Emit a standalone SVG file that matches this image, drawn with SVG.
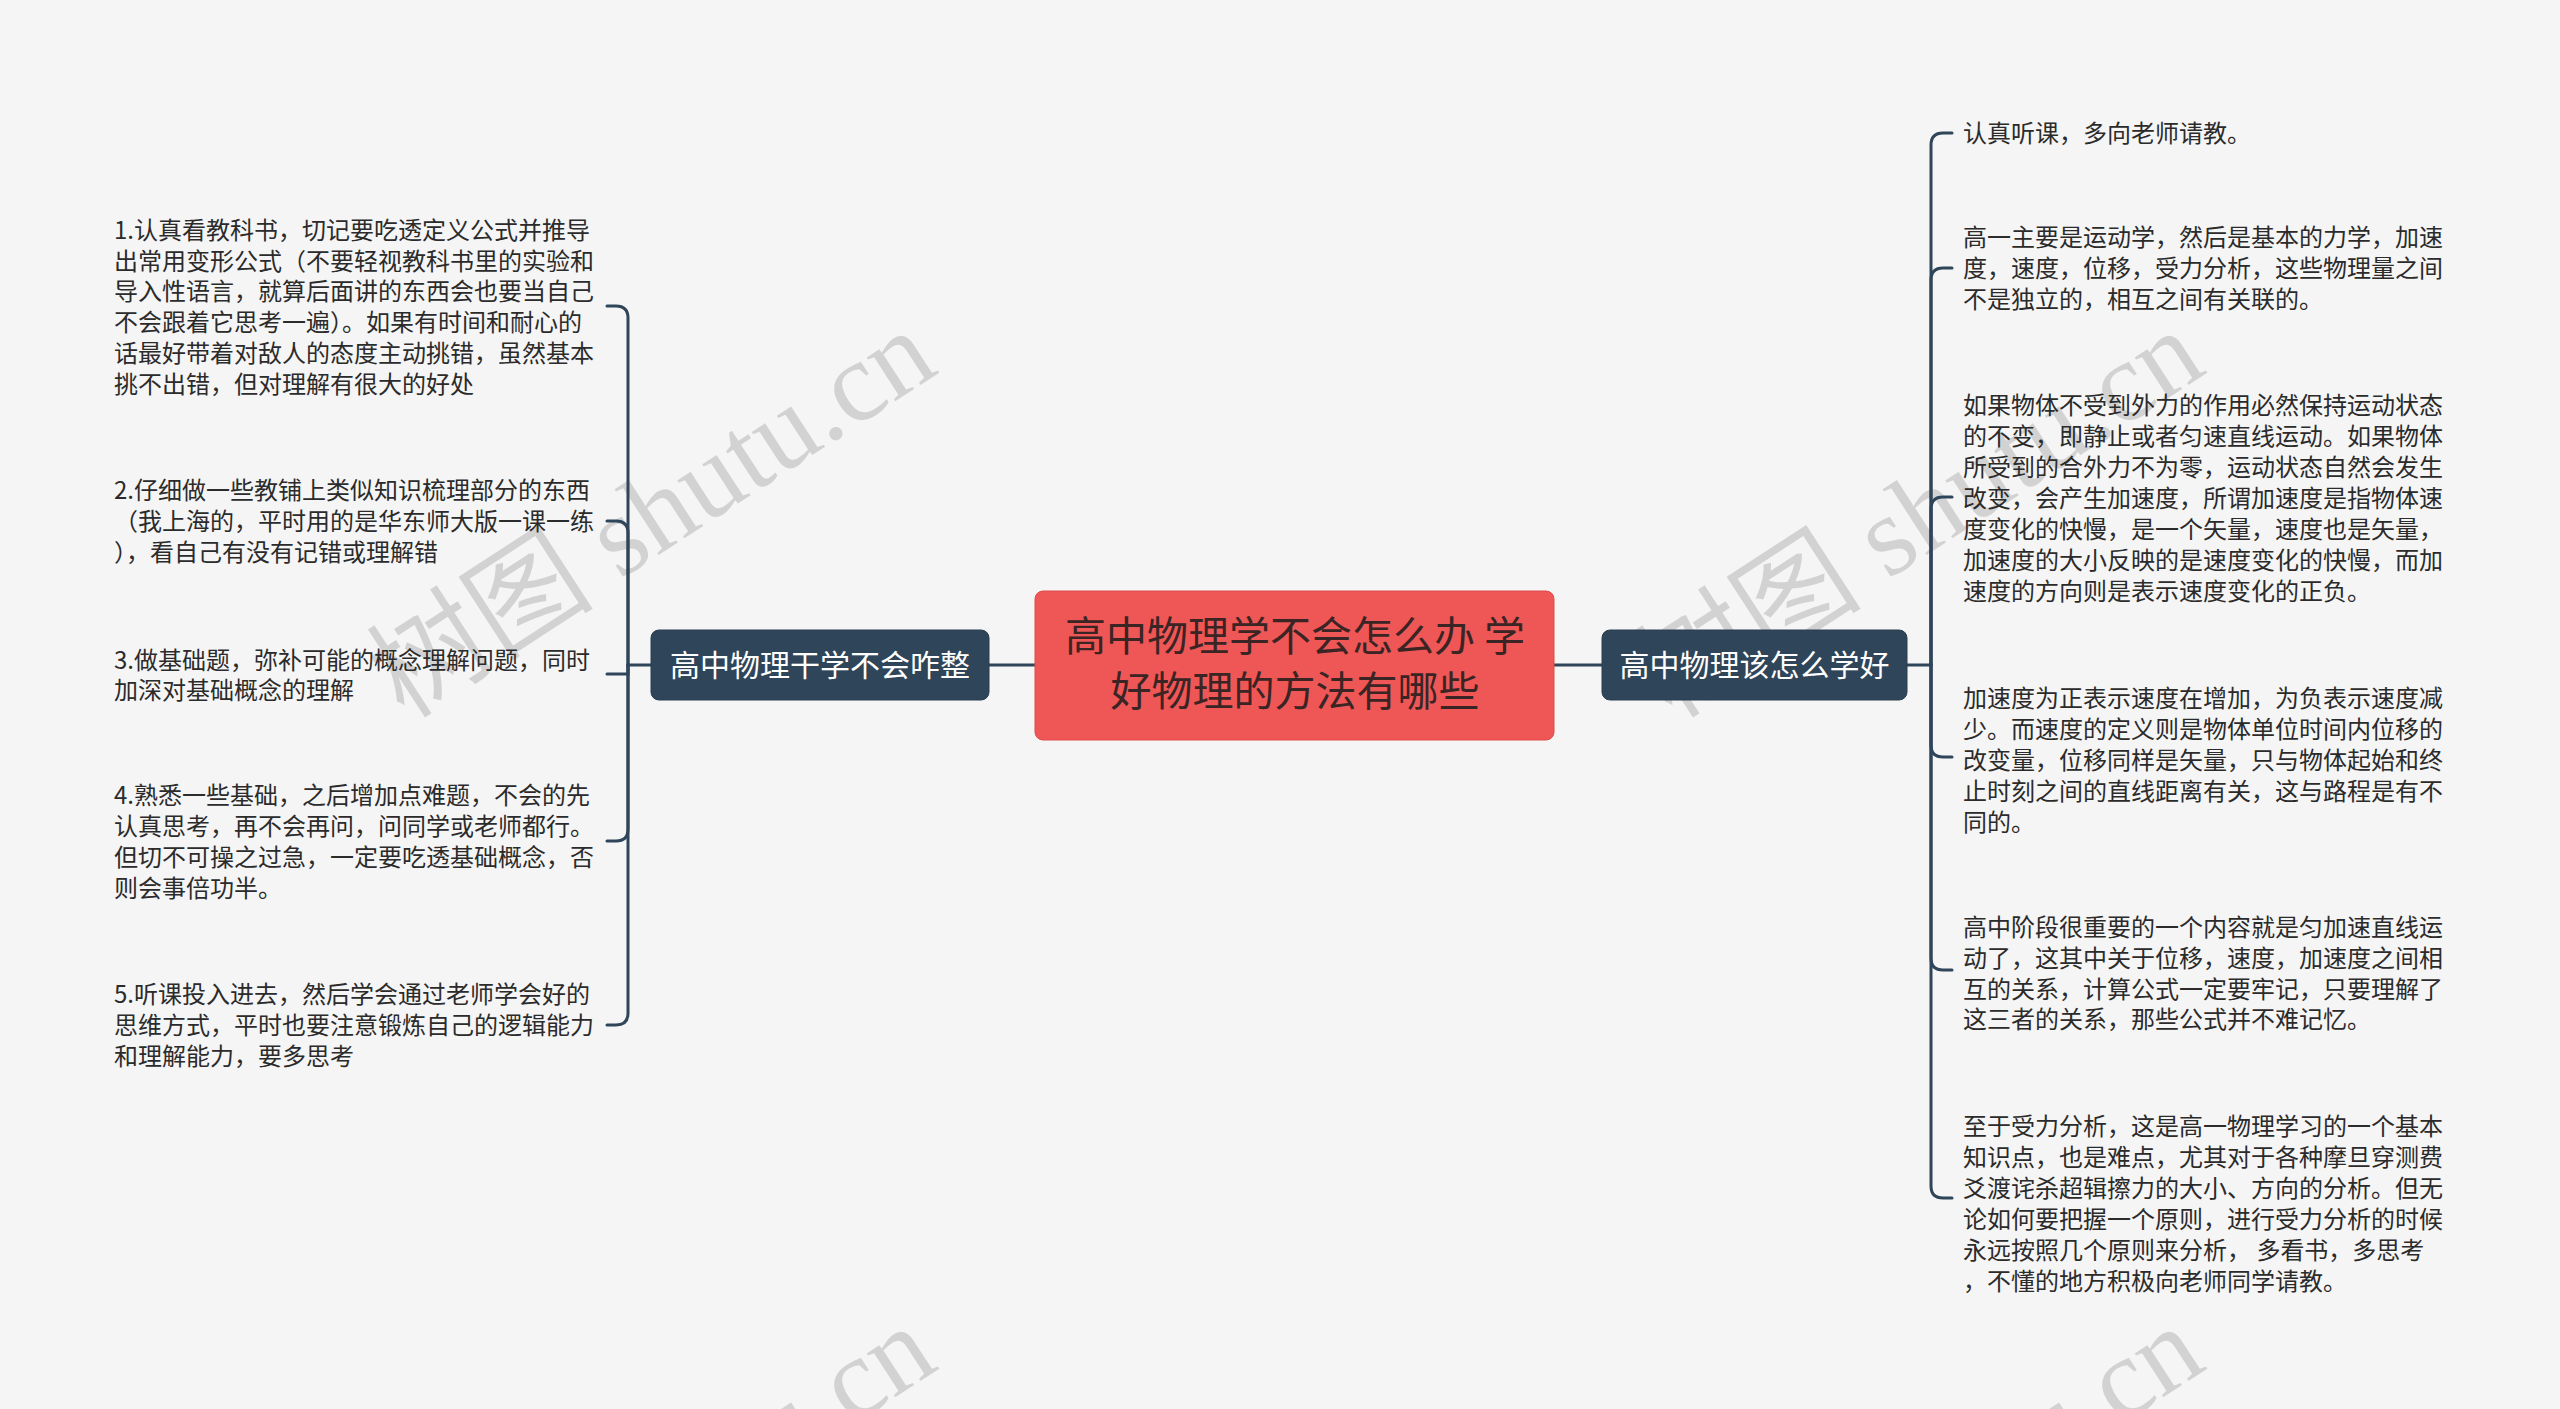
<svg xmlns="http://www.w3.org/2000/svg" width="2560" height="1409" viewBox="0 0 2560 1409">
<style>
.bg{fill:#f5f5f5}
.wm{font-family:"Liberation Serif","Noto Sans CJK SC",serif;font-size:114px;fill:#000;fill-opacity:0.14;text-anchor:middle}
.leaf{font-family:"Noto Sans CJK SC","Noto Sans",sans-serif;font-size:24px;fill:#2b2b2b}
.main{fill:#2f4559;stroke:#2a3e50;stroke-width:1}
.mainT{font-family:"Noto Sans CJK SC","Noto Sans",sans-serif;font-size:30px;fill:#ffffff;text-anchor:middle}
.root{fill:#ef5656;stroke:#e04a4a;stroke-width:1}
.rootT{font-family:"Noto Sans CJK SC","Noto Sans",sans-serif;font-size:41px;fill:#3a2424;text-anchor:middle}
.c{fill:none;stroke:#2f4559;stroke-width:3;stroke-linecap:round}
</style>
<rect class="bg" x="0" y="0" width="2560" height="1409"/>
<g id="watermarks">
<text class="wm" transform="translate(652,514) rotate(-33)" x="0" y="38">树图 shutu.cn</text>
<text class="wm" transform="translate(1920,514) rotate(-33)" x="0" y="38">树图 shutu.cn</text>
<text class="wm" transform="translate(652,1510) rotate(-33)" x="0" y="38">树图 shutu.cn</text>
<text class="wm" transform="translate(1920,1510) rotate(-33)" x="0" y="38">树图 shutu.cn</text>
</g>
<g id="connectors">
<path class="c" d="M989,665 H1035"/>
<path class="c" d="M1554,665 H1602"/>
<path class="c" d="M651,665 H628"/>
<path class="c" d="M628,665 V318 Q628,306 616,306 H607"/>
<path class="c" d="M628,665 V533 Q628,521 616,521 H607"/>
<path class="c" d="M628,665 V674 H607"/>
<path class="c" d="M628,665 V829 Q628,841 616,841 H607"/>
<path class="c" d="M628,665 V1013 Q628,1025 616,1025 H607"/>
<path class="c" d="M1907,665 H1931"/>
<path class="c" d="M1931,665 V145 Q1931,133 1943,133 H1952"/>
<path class="c" d="M1931,665 V280 Q1931,268 1943,268 H1952"/>
<path class="c" d="M1931,665 V509 Q1931,497 1943,497 H1952"/>
<path class="c" d="M1931,665 V745 Q1931,757 1943,757 H1952"/>
<path class="c" d="M1931,665 V958 Q1931,970 1943,970 H1952"/>
<path class="c" d="M1931,665 V1186 Q1931,1198 1943,1198 H1952"/>
</g>
<g id="root">
<rect class="root" x="1035" y="591" width="519" height="149" rx="8" ry="8"/>
<text class="rootT" x="1295" y="651">高中物理学不会怎么办 学</text>
<text class="rootT" x="1295" y="706">好物理的方法有哪些</text>
</g>
<g id="left-main">
<rect class="main" x="651" y="630" width="338" height="70" rx="8" ry="8"/>
<text class="mainT" x="820" y="676">高中物理干学不会咋整</text>
</g>
<g id="right-main">
<rect class="main" x="1602" y="630" width="305" height="70" rx="8" ry="8"/>
<text class="mainT" x="1754.5" y="676">高中物理该怎么学好</text>
</g>
<g id="left-1">
<text class="leaf" x="114" y="239">1.认真看教科书，切记要吃透定义公式并推导</text>
<text class="leaf" x="114" y="270">出常用变形公式（不要轻视教科书里的实验和</text>
<text class="leaf" x="114" y="300">导入性语言，就算后面讲的东西会也要当自己</text>
<text class="leaf" x="114" y="331">不会跟着它思考一遍）。如果有时间和耐心的</text>
<text class="leaf" x="114" y="362">话最好带着对敌人的态度主动挑错，虽然基本</text>
<text class="leaf" x="114" y="393">挑不出错，但对理解有很大的好处</text>
</g>
<g id="left-2">
<text class="leaf" x="114" y="499">2.仔细做一些教铺上类似知识梳理部分的东西</text>
<text class="leaf" x="114" y="530">（我上海的，平时用的是华东师大版一课一练</text>
<text class="leaf" x="114" y="561">），看自己有没有记错或理解错</text>
</g>
<g id="left-3">
<text class="leaf" x="114" y="669">3.做基础题，弥补可能的概念理解问题，同时</text>
<text class="leaf" x="114" y="699">加深对基础概念的理解</text>
</g>
<g id="left-4">
<text class="leaf" x="114" y="804">4.熟悉一些基础，之后增加点难题，不会的先</text>
<text class="leaf" x="114" y="835">认真思考，再不会再问，问同学或老师都行。</text>
<text class="leaf" x="114" y="866">但切不可操之过急，一定要吃透基础概念，否</text>
<text class="leaf" x="114" y="897">则会事倍功半。</text>
</g>
<g id="left-5">
<text class="leaf" x="114" y="1003">5.听课投入进去，然后学会通过老师学会好的</text>
<text class="leaf" x="114" y="1034">思维方式，平时也要注意锻炼自己的逻辑能力</text>
<text class="leaf" x="114" y="1065">和理解能力，要多思考</text>
</g>
<g id="right-1">
<text class="leaf" x="1963" y="142">认真听课，多向老师请教。</text>
</g>
<g id="right-2">
<text class="leaf" x="1963" y="246">高一主要是运动学，然后是基本的力学，加速</text>
<text class="leaf" x="1963" y="277">度，速度，位移，受力分析，这些物理量之间</text>
<text class="leaf" x="1963" y="308">不是独立的，相互之间有关联的。</text>
</g>
<g id="right-3">
<text class="leaf" x="1963" y="414">如果物体不受到外力的作用必然保持运动状态</text>
<text class="leaf" x="1963" y="445">的不变，即静止或者匀速直线运动。如果物体</text>
<text class="leaf" x="1963" y="476">所受到的合外力不为零，运动状态自然会发生</text>
<text class="leaf" x="1963" y="507">改变，会产生加速度，所谓加速度是指物体速</text>
<text class="leaf" x="1963" y="538">度变化的快慢，是一个矢量，速度也是矢量，</text>
<text class="leaf" x="1963" y="569">加速度的大小反映的是速度变化的快慢，而加</text>
<text class="leaf" x="1963" y="600">速度的方向则是表示速度变化的正负。</text>
</g>
<g id="right-4">
<text class="leaf" x="1963" y="707">加速度为正表示速度在增加，为负表示速度减</text>
<text class="leaf" x="1963" y="738">少。而速度的定义则是物体单位时间内位移的</text>
<text class="leaf" x="1963" y="769">改变量，位移同样是矢量，只与物体起始和终</text>
<text class="leaf" x="1963" y="800">止时刻之间的直线距离有关，这与路程是有不</text>
<text class="leaf" x="1963" y="831">同的。</text>
</g>
<g id="right-5">
<text class="leaf" x="1963" y="936">高中阶段很重要的一个内容就是匀加速直线运</text>
<text class="leaf" x="1963" y="967">动了，这其中关于位移，速度，加速度之间相</text>
<text class="leaf" x="1963" y="998">互的关系，计算公式一定要牢记，只要理解了</text>
<text class="leaf" x="1963" y="1028">这三者的关系，那些公式并不难记忆。</text>
</g>
<g id="right-6">
<text class="leaf" x="1963" y="1135">至于受力分析，这是高一物理学习的一个基本</text>
<text class="leaf" x="1963" y="1166">知识点，也是难点，尤其对于各种摩旦穿测费</text>
<text class="leaf" x="1963" y="1197">爻渡诧杀超辑擦力的大小、方向的分析。但无</text>
<text class="leaf" x="1963" y="1228">论如何要把握一个原则，进行受力分析的时候</text>
<text class="leaf" x="1963" y="1259">永远按照几个原则来分析， 多看书，多思考</text>
<text class="leaf" x="1963" y="1290">，不懂的地方积极向老师同学请教。</text>
</g>
</svg>
